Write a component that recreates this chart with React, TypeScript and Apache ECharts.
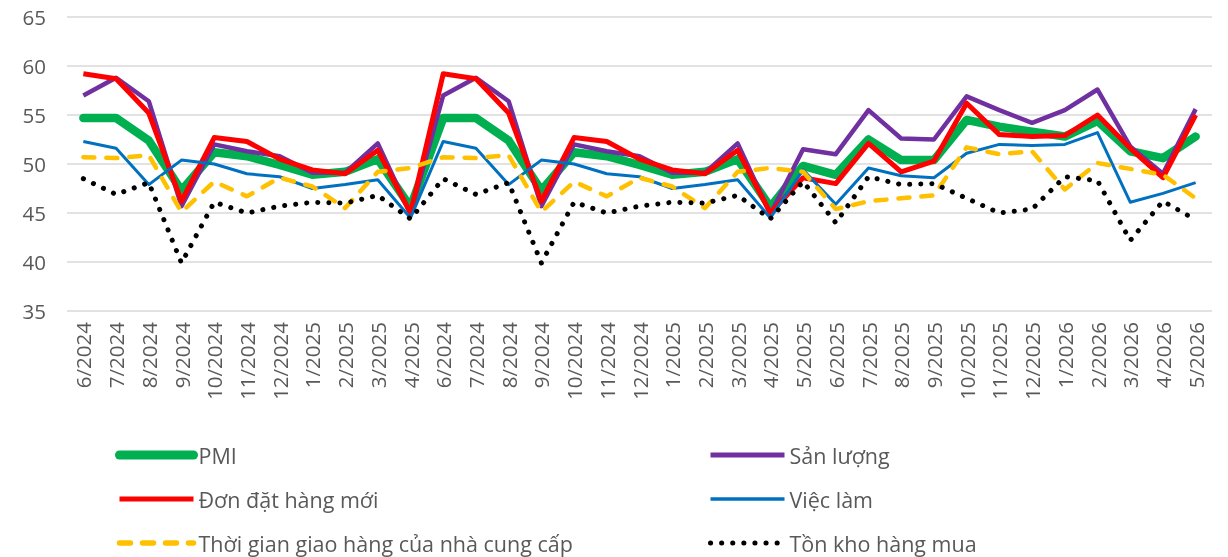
import React, { useEffect, useRef } from "react";
import * as echarts from "echarts";

const categories = [
  "6/2024", "7/2024", "8/2024", "9/2024", "10/2024", "11/2024", "12/2024", "1/2025", "2/2025", "3/2025", "4/2025",
  "6/2024", "7/2024", "8/2024", "9/2024", "10/2024", "11/2024", "12/2024", "1/2025", "2/2025", "3/2025", "4/2025",
  "5/2025", "6/2025", "7/2025", "8/2025", "9/2025", "10/2025", "11/2025", "12/2025", "1/2026", "2/2026", "3/2026", "4/2026", "5/2026",
];

const pmi = [
  54.7, 54.7, 52.4, 47.3, 51.2, 50.8, 49.9, 48.9, 49.2, 50.5, 45.6,
  54.7, 54.7, 52.4, 47.3, 51.2, 50.8, 49.9, 48.9, 49.2, 50.5, 45.6,
  49.8, 48.9, 52.5, 50.4, 50.4, 54.5, 53.8, 53.3, 52.8, 54.4, 51.3, 50.6, 52.8,
];
const sanLuong = [
  57.0, 58.8, 56.4, 45.7, 52.0, 51.3, 50.8, 49.1, 49.1, 52.1, 44.9,
  57.0, 58.8, 56.4, 45.7, 52.0, 51.3, 50.8, 49.1, 49.1, 52.1, 44.9,
  51.5, 51.0, 55.5, 52.6, 52.5, 56.9, 55.5, 54.2, 55.5, 57.6, 51.8, 49.0, 55.6,
];
const donHang = [
  59.2, 58.7, 55.2, 46.2, 52.7, 52.3, 50.5, 49.4, 49.0, 51.4, 45.0,
  59.2, 58.7, 55.2, 46.2, 52.7, 52.3, 50.5, 49.4, 49.0, 51.4, 45.0,
  48.6, 48.0, 52.1, 49.2, 50.3, 56.2, 53.0, 52.8, 52.9, 55.0, 51.6, 48.6, 55.0,
];
const viecLam = [
  52.3, 51.6, 47.9, 50.4, 50.0, 49.0, 48.7, 47.5, 47.9, 48.4, 44.5,
  52.3, 51.6, 47.9, 50.4, 50.0, 49.0, 48.7, 47.5, 47.9, 48.4, 44.5,
  49.4, 45.9, 49.6, 48.8, 48.6, 51.1, 52.0, 51.9, 52.0, 53.2, 46.1, 47.0, 48.1,
];
const giaoHang = [
  50.7, 50.6, 50.9, 45.1, 48.2, 46.7, 48.6, 47.7, 45.5, 49.2, 49.6,
  50.7, 50.6, 50.9, 45.1, 48.2, 46.7, 48.6, 47.7, 45.5, 49.2, 49.6,
  49.2, 45.4, 46.2, 46.5, 46.8, 51.7, 51.0, 51.3, 47.4, 50.1, 49.5, 48.9, 46.5,
];
const tonKho = [
  48.5, 46.9, 48.1, 39.9, 46.1, 45.0, 45.7, 46.1, 46.0, 46.8, 44.4,
  48.5, 46.9, 48.1, 39.9, 46.1, 45.0, 45.7, 46.1, 46.0, 46.8, 44.4,
  48.2, 44.0, 48.7, 47.9, 48.0, 46.5, 45.0, 45.4, 48.7, 48.3, 42.2, 46.2, 44.3,
];

const FONT = "'Open Sans', 'Noto Sans', sans-serif";
const TEXT = "#595959";

export default function App() {
  const ref = useRef<HTMLDivElement>(null);
  useEffect(() => {
    const chart = echarts.init(ref.current as HTMLDivElement, null, { renderer: "svg" });
    const styles: Record<string, any> = {
      PMI: { color: "#00B050", width: 8.5, cap: "round", join: "round", type: "solid" },
      "Sản lượng": { color: "#7030A0", width: 4.5, cap: "butt", join: "round", type: "solid" },
      "Đơn đặt hàng mới": { color: "#FF0000", width: 5, cap: "butt", join: "round", type: "solid" },
      "Việc làm": { color: "#0070C0", width: 3, cap: "butt", join: "round", type: "solid" },
      "Thời gian giao hàng của nhà cung cấp": { color: "#FFC000", width: 4.5, cap: "round", join: "round", type: [11, 12] },
      "Tồn kho hàng mua": { color: "#000000", width: 5, cap: "round", join: "round", type: [0.1, 11] },
    };
    const mk = (name: string, data: number[]) => ({
      name,
      type: "line",
      data,
      symbol: "none",
      itemStyle: { color: styles[name].color },
      lineStyle: { ...styles[name] },
    });
    const legendItem = (name: string, w: number) => ({
      name,
      itemStyle: { opacity: 0, borderWidth: 0 },
      lineStyle: { ...styles[name], width: w },
    });
    const legendBase = {
      orient: "vertical",
      top: 444,
      padding: 0,
      itemWidth: 74,
      itemHeight: 22,
      itemGap: 22,
      textStyle: { fontSize: 21.5, color: TEXT, fontFamily: FONT, lineHeight: 22 },
    };
    chart.setOption({
      animation: false,
      textStyle: { fontFamily: FONT },
      grid: { left: 67, right: 16, top: 17, bottom: 246, containLabel: false },
      xAxis: {
        type: "category",
        data: categories,
        boundaryGap: true,
        axisLine: { show: false },
        axisTick: { show: false },
        axisLabel: { rotate: 90, interval: 0, fontSize: 20.5, color: TEXT, fontFamily: FONT, margin: 11 },
        splitLine: { show: false },
      },
      yAxis: {
        type: "value",
        min: 35,
        max: 65,
        interval: 5,
        axisLine: { show: false },
        axisTick: { show: false },
        axisLabel: { fontSize: 20.5, color: TEXT, fontFamily: FONT, margin: 21 },
        splitLine: { lineStyle: { color: "#D9D9D9", width: 1.5 } },
      },
      legend: [
        {
          ...legendBase,
          left: 115,
          data: [
            legendItem("PMI", 9),
            legendItem("Đơn đặt hàng mới", 5),
            legendItem("Thời gian giao hàng của nhà cung cấp", 5.5),
          ],
        },
        {
          ...legendBase,
          left: 708,
          data: [
            legendItem("Sản lượng", 5),
            legendItem("Việc làm", 3.5),
            legendItem("Tồn kho hàng mua", 5),
          ],
        },
      ],
      series: [
        mk("PMI", pmi),
        mk("Sản lượng", sanLuong),
        mk("Đơn đặt hàng mới", donHang),
        mk("Việc làm", viecLam),
        mk("Thời gian giao hàng của nhà cung cấp", giaoHang),
        mk("Tồn kho hàng mua", tonKho),
      ],
    });
    return () => chart.dispose();
  }, []);
  return (
    <div
      ref={ref}
      style={{ position: "fixed", left: 0, top: 0, width: 1228, height: 557 }}
    />
  );
}
